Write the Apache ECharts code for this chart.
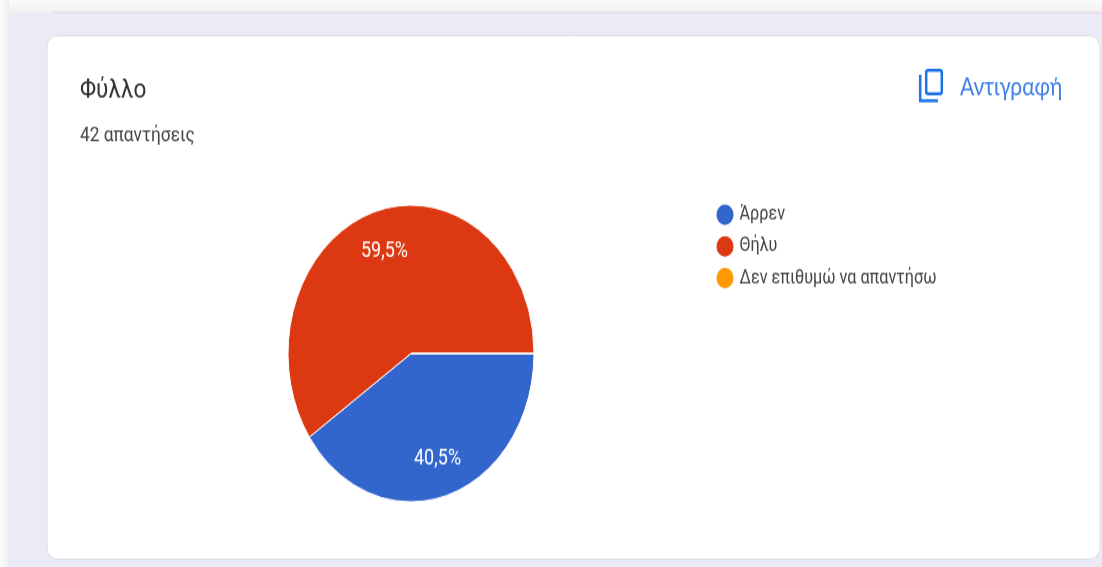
<!DOCTYPE html>
<html lang="el">
<head>
<meta charset="utf-8">
<title>Φύλλο</title>
<style>
  html, body { margin: 0; padding: 0; width: 1102px; height: 567px; overflow: hidden; background: #fff; }
  /* The form card is laid out in a 470px-tall space and stretched to full height */
  #chart { width: 1102px; height: 470px; transform-origin: 0 0; transform: scaleY(1.20638); }
</style>
<script src="https://cdn.jsdelivr.net/npm/echarts@6/dist/echarts.min.js"></script>
</head>
<body>
<div id="chart"></div>
<script>
const categories = ['Άρρεν', 'Θήλυ', 'Δεν επιθυμώ να απαντήσω'];
const responses = [17, 25, 0];
const sliceColors = ['#3366CC', '#DC3912', '#FF9900'];
const questionTitle = 'Φύλλο';
const responseCount = '42 απαντήσεις';
const copyLabel = 'Αντιγραφή';

const total = responses.reduce((a, b) => a + b, 0);
const pieRadius = 123;
const labelRadius = 87;

// Mid-angle of each slice, in radians, clockwise from 3 o'clock
let sweep = 0;
const midAngles = responses.map(v => {
  const a = v / total * 2 * Math.PI;
  const mid = sweep + a / 2;
  sweep += a;
  return mid;
});

const shade = (x, y, x2, y2, from, to) => ({
  type: 'linear', x, y, x2, y2,
  colorStops: [{ offset: 0, color: from }, { offset: 1, color: to }]
});

const chart = echarts.init(document.getElementById('chart'));
chart.setOption({
  animation: false,
  backgroundColor: '#ffffff',
  title: [
    { text: questionTitle, left: 80, top: 64,
      textStyle: { fontFamily: 'Roboto', fontWeight: 400, fontSize: 22.5, color: '#333333' }, padding: 0 },
    { text: responseCount, left: 80, top: 104,
      textStyle: { fontFamily: 'Roboto', fontWeight: 400, fontSize: 17.3, color: '#444444' }, padding: 0 }
  ],
  legend: {
    orient: 'vertical',
    left: 714.5,
    top: 167.5,
    padding: 0,
    itemWidth: 19,
    itemHeight: 19,
    itemGap: 5.3,
    icon: 'circle',
    selectedMode: false,
    data: categories,
    textStyle: { fontFamily: 'Roboto', fontSize: 16.2, color: '#444444', padding: 0 }
  },
  graphic: [
    { type: 'rect', z: -10, shape: { x: 9, y: 11, width: 1093, height: 459 },
      style: { fill: '#EDEAF8' }, silent: true },
    { type: 'rect', z: -9, shape: { x: 0, y: 0, width: 1102, height: 11 },
      style: { fill: shade(0, 0, 0, 1, '#FBFBFB', '#F0F0F0') }, silent: true },
    { type: 'rect', z: -9, shape: { x: 52, y: 9.8, width: 1050, height: 1.2 },
      style: { fill: '#DEDDE3' }, silent: true },
    { type: 'rect', z: -9, shape: { x: 0, y: 0, width: 9, height: 470 },
      style: { fill: shade(0, 0, 1, 0, '#FBFBFB', '#EFEFEF') }, silent: true },
    { type: 'rect', z: -8, shape: { x: 47, y: 29.6, width: 1053, height: 433.9, r: 10 },
      style: { fill: '#ffffff', stroke: '#DFDFE6', lineWidth: 1 }, silent: true },
    // Copy icon: front sheet and the corner of the sheet behind it
    { type: 'rect', z: 5, silent: true, shape: { x: 926.2, y: 58.2, width: 15.6, height: 19.6, r: 2 },
      style: { fill: 'none', stroke: '#1A73E8', lineWidth: 2.5 } },
    { type: 'polyline', z: 5, silent: true,
      shape: { points: [[920.2, 62], [920.2, 83.4], [938, 83.4]] },
      style: { fill: 'none', stroke: '#1A73E8', lineWidth: 2.5 } },
    { type: 'text', z: 5, silent: true, x: 960, y: 62,
      style: { text: copyLabel, fontFamily: 'Lato', fontSize: 21, fill: '#3F7FE8' } }
  ],
  series: [{
    type: 'pie',
    center: [411, 293],
    radius: [0, pieRadius],
    startAngle: 0,
    clockwise: true,
    silent: true,
    data: categories.map((name, i) => ({ name, value: responses[i], itemStyle: { color: sliceColors[i] } })),
    itemStyle: { borderColor: '#ffffff', borderWidth: 1 },
    label: {
      position: 'inside',
      fontFamily: 'Roboto',
      fontSize: 18,
      color: '#ffffff',
      formatter: p => p.value ? (p.value / total * 100).toFixed(1).replace('.', ',') + '%' : ''
    },
    labelLine: { show: false },
    labelLayout: p => {
      // Push the percentage out from the default mid-radius, and settle it on the text baseline
      const shift = labelRadius - pieRadius / 2;
      return { dx: shift * Math.cos(midAngles[p.dataIndex]), dy: shift * Math.sin(midAngles[p.dataIndex]) + 1.6 };
    }
  }]
});
</script>
</body>
</html>
